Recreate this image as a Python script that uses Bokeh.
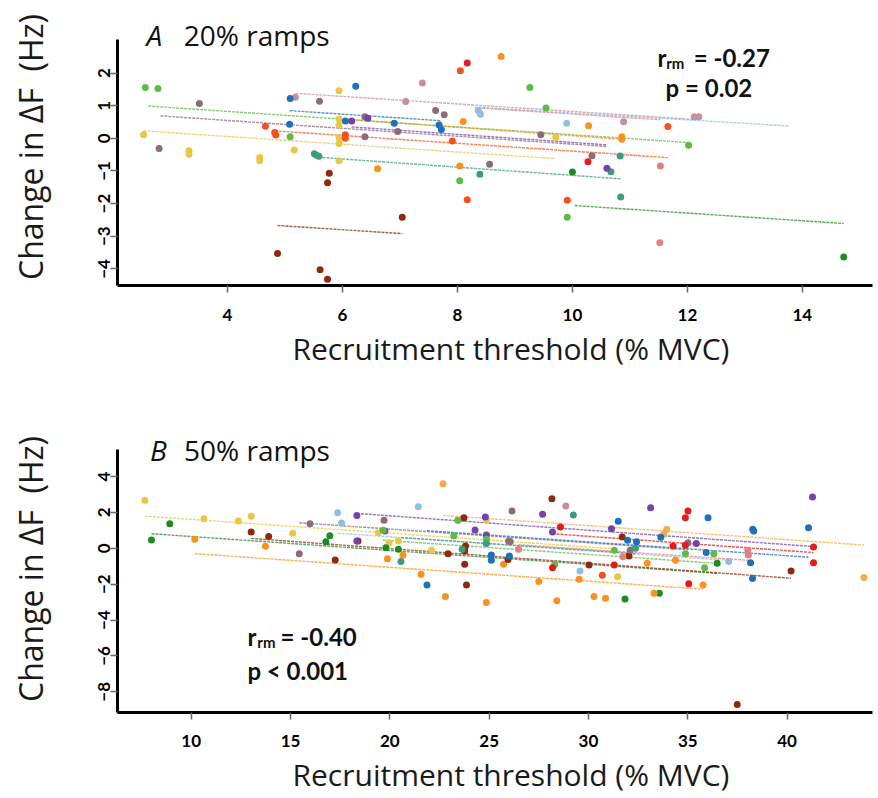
from bokeh.plotting import figure
from bokeh.layouts import column
from bokeh.models import ColumnDataSource, FixedTicker, Label, Range1d, Title
from bokeh.embed import file_html
from bokeh.resources import INLINE

FONT = "Lato"
LFONT = "Open Sans"

palette = {
    "G": "#5DBB46", "M": "#8C6B7B", "Y": "#E9C645", "O": "#F7921E",
    "O2": "#F9A94B", "OR": "#F4511E", "DB": "#8E2A0B", "PM": "#C7909E",
    "B": "#1F70B8", "T": "#3E9C7C", "P": "#7442A8", "R": "#E41A1C",
    "LB": "#90BFE0", "S": "#E48080", "DG": "#1E8B22",
}

# ---------------- Panel A : 20% ramps ----------------
a_xticks = [4, 6, 8, 10, 12, 14]
a_yticks = [-4, -3, -2, -1, 0, 1, 2]

a_grp = (["G"] * 8 + ["M"] * 11 + ["Y"] * 13 + ["O"] * 7 + ["OR"] * 10 + ["DB"] * 6
         + ["PM"] * 6 + ["B"] * 7 + ["T"] * 7 + ["P"] * 3 + ["R"] * 2 + ["LB"] * 3
         + ["S"] * 2 + ["DG"] * 2)
a_rt = [2.57, 2.79, 5.09, 8.04, 9.26, 9.54, 9.91, 12.02,
        2.81, 3.51, 5.60, 6.39, 6.39, 6.96, 7.62, 7.77, 8.56, 9.45, 10.34,
        2.54, 3.33, 3.33, 4.56, 4.56, 5.16, 5.94, 5.94, 5.94, 5.94, 5.94, 5.94, 9.71,
        6.61, 8.10, 8.04, 8.76, 10.28, 10.86, 10.86,
        4.66, 4.82, 4.84, 6.05, 6.05, 7.91, 8.05, 8.17, 9.91, 11.66,
        4.87, 5.61, 5.74, 5.77, 5.74, 7.04,
        5.18, 7.10, 7.39, 10.89, 12.12, 12.20,
        5.09, 5.08, 6.23, 6.05, 6.90, 7.68, 7.72,
        5.51, 5.55, 5.59, 8.39, 10.67, 10.83, 10.84,
        6.16, 6.44, 10.60,
        8.17, 10.27,
        8.36, 8.40, 9.90,
        11.53, 11.52,
        10.00, 14.72]
a_df = [1.56, 1.53, 0.05, -1.30, 1.56, 0.93, -2.42, -0.21,
        -0.31, 1.07, 1.14, 0.66, 0.05, 0.21, 0.85, 0.72, -0.79, 0.11, -0.53,
        0.11, -0.38, -0.49, -0.59, -0.69, -0.36, 1.46, 0.59, 0.41, 0.02, -0.16, -0.69, 0.03,
        -0.93, 0.52, -0.85, 2.51, 0.39, 0.05, -0.03,
        0.37, 0.18, 0.10, 0.11, 0.00, -0.08, 2.07, -1.88, -1.90, 0.36,
        -3.53, -4.03, -4.32, -1.07, -1.36, -2.42,
        1.26, 1.13, 1.70, 0.51, 0.66, 0.66,
        1.22, 0.43, 1.60, 0.53, 0.46, 0.41, 0.27,
        -0.47, -0.52, -0.55, -1.10, -1.02, -0.54, -1.80,
        0.53, 0.62, -0.92,
        2.31, -0.72,
        0.85, 0.74, 0.46,
        -0.85, -3.20,
        -1.03, -3.64]

a_line_grp = ["G", "M", "Y", "PM", "LB", "S", "B", "O", "OR", "T", "P", "DB", "DG"]
a_line_x0 = [2.62, 2.83, 2.54, 5.18, 8.36, 8.30, 5.08, 6.04, 4.82, 5.51, 6.16, 4.87, 10.04]
a_line_y0 = [0.99, 0.69, 0.23, 1.38, 0.95, 0.94, 0.85, 0.59, 0.23, -0.57, 0.35, -2.67, -2.06]
a_line_x1 = [12.02, 10.60, 9.70, 12.12, 13.77, 11.53, 7.72, 10.86, 11.66, 10.84, 10.60, 7.04, 14.72]
a_line_y1 = [-0.13, -0.25, -0.62, 0.58, 0.38, 0.57, 0.54, -0.03, -0.59, -1.24, -0.20, -2.92, -2.61]

# ---------------- Panel B : 50% ramps ----------------
b_xticks = [10, 15, 20, 25, 30, 35, 40]
b_yticks = [-8, -6, -4, -2, 0, 2, 4]

b_grp = (["Y"] * 11 + ["DG"] * 9 + ["O"] * 17 + ["O2"] * 4 + ["DB"] * 17 + ["M"] * 8
         + ["LB"] * 5 + ["P"] * 12 + ["G"] * 9 + ["T"] * 5 + ["B"] * 15 + ["R"] * 10
         + ["S"] * 4 + ["PM"] * 1 + ["OR"] * 1)
b_rt = [7.67, 10.64, 12.37, 13.02, 15.11, 19.42, 19.96, 20.43, 22.10, 24.86, 31.47,
        8.00, 8.92, 16.78, 16.98, 19.80, 20.43, 31.84, 33.57, 36.48,
        10.18, 13.74, 19.88, 20.66, 21.57, 22.80, 24.86, 25.73, 27.50, 28.41, 29.53, 30.28,
        30.86, 32.96, 33.30, 34.38, 35.77,
        22.68, 33.78, 33.94, 43.87,
        13.02, 13.90, 17.25, 18.40, 22.93, 23.73, 23.81, 23.77, 23.77, 23.86, 25.95, 28.16,
        30.03, 31.70, 32.04, 37.49, 40.20,
        15.44, 15.98, 19.71, 26.15, 25.98, 26.06, 32.10, 35.01,
        17.37, 17.57, 21.43, 29.57, 37.06,
        18.34, 18.34, 19.75, 24.29, 24.81, 24.86, 27.69, 28.19, 31.16, 33.13, 35.43, 41.28,
        19.66, 23.42, 23.22, 24.86, 28.30, 31.30, 34.88, 36.31, 35.85,
        20.56, 23.64, 24.86, 29.24, 32.37,
        21.87, 25.11, 25.11, 26.02, 31.50, 31.97, 32.42, 33.64, 35.93, 36.02, 38.27, 38.32,
        38.16, 38.26, 41.08,
        28.19, 28.59, 31.30, 34.26, 34.88, 35.01, 34.88, 35.05, 41.33, 41.33,
        26.48, 31.73, 38.02, 38.05,
        28.86,
        30.70]
b_df = [2.68, 1.64, 1.52, 1.79, 0.83, 0.87, 0.31, 0.41, -0.11, 1.60, -1.59,
        0.46, 1.37, 0.37, 0.70, 0.03, -0.06, -2.83, -2.50, -0.83,
        0.50, 0.11, -0.59, -0.39, -1.45, -2.69, -3.02, -0.89, -1.85, -2.93, -1.72, -2.69,
        -2.78, -0.83, -2.50, -0.67, -2.04,
        3.59, 0.78, 1.06, -1.63,
        0.90, 0.65, -0.65, 0.41, -0.30, 1.70, 0.13, -0.15, -0.89, -2.04, -0.63, 2.76,
        -0.93, 0.63, -0.43, -8.70, -1.26,
        -0.30, 1.37, 1.56, 2.07, 0.41, 0.37, -0.11, 0.31,
        1.98, 1.41, 2.31, -1.26, -0.74,
        1.83, 0.41, 0.96, 1.02, 1.74, 0.74, 1.89, 0.90, 1.09, 2.26, 0.26, 2.85,
        1.00, 1.56, 0.70, 0.50, -0.90, -0.11, -0.30, -0.30, -1.08,
        -0.74, -0.06, 0.26, 1.85, 0.00,
        -2.04, -0.37, -0.67, -0.43, 1.50, 0.44, 0.37, 0.61, -0.24, 1.70, 1.06, 0.96,
        -0.80, -1.69, 1.14,
        -1.08, 1.18, -0.93, 0.13, 1.70, 2.07, 0.17, -1.97, 0.07, -0.80,
        -0.06, -0.47, -0.11, -0.37,
        2.35,
        -1.50]

b_line_grp = ["Y", "DG", "O", "O2", "DB", "M", "LB", "P", "G", "T", "B", "R", "S"]
b_line_x0 = [7.67, 8.00, 10.18, 22.68, 13.02, 15.44, 17.37, 18.34, 19.66, 20.56, 21.87, 28.19, 26.48]
b_line_y0 = [1.79, 0.81, -0.30, 1.83, 0.55, 1.42, 0.84, 1.94, 0.45, 0.60, 0.98, 0.81, 0.20]
b_line_x1 = [31.47, 36.48, 35.77, 43.87, 40.20, 35.01, 37.06, 41.28, 36.31, 32.37, 41.08, 41.33, 38.05]
b_line_y1 = [-0.04, -1.40, -2.28, 0.18, -1.67, -0.08, -0.68, 0.10, -0.83, -0.30, -0.50, -0.24, -0.67]

x_title = "Recruitment threshold (% MVC)"
y_title = "Change in ΔF\u00a0\u00a0(Hz)"


def make_panel(height, xr, yr, ybounds, border_top, border_bottom, xticks, yticks,
               rt, df, grp, lgrp, lx0, ly0, lx1, ly1, tick_standoff, title_standoff):
    p = figure(width=876, height=height, x_range=Range1d(*xr), y_range=Range1d(*yr),
               output_backend="svg", toolbar_location=None,
               min_border_left=117, min_border_right=4,
               min_border_top=border_top, min_border_bottom=border_bottom)
    p.grid.visible = False
    p.outline_line_color = None
    p.background_fill_color = "white"
    p.border_fill_color = "white"

    lsrc = ColumnDataSource(dict(x0=lx0, y0=ly0, x1=lx1, y1=ly1,
                                 c=[palette[g] for g in lgrp]))
    p.segment("x0", "y0", "x1", "y1", source=lsrc, line_color="c",
              line_width=1.4, line_alpha=0.75, line_dash="3 1")

    src = ColumnDataSource(dict(x=rt, y=df, c=[palette[g] for g in grp]))
    p.scatter("x", "y", source=src, marker="circle", size=7,
              fill_color="c", line_color=None)

    p.xaxis.ticker = FixedTicker(ticks=xticks)
    p.yaxis.ticker = FixedTicker(ticks=yticks)
    p.yaxis.bounds = ybounds
    for ax in (p.xaxis[0], p.yaxis[0]):
        ax.axis_line_width = 3
        ax.axis_line_color = "black"
        ax.major_tick_out = 7
        ax.major_tick_in = 0
        ax.major_tick_line_color = "#666666"
        ax.major_tick_line_width = 1.5
        ax.minor_tick_line_color = None
        ax.major_label_text_font = FONT
        ax.major_label_text_font_style = "bold"
        ax.major_label_text_font_size = "17px"
        ax.major_label_text_color = "black"
        ax.axis_label_text_font = LFONT
        ax.axis_label_text_font_style = "normal"
        ax.axis_label_text_color = "#1a1a1a"
    p.yaxis.axis_label = y_title
    p.yaxis.axis_label_text_font_size = "32px"
    p.yaxis.major_label_orientation = "vertical"
    p.xaxis.major_label_standoff = tick_standoff
    p.yaxis.major_label_standoff = 0
    p.yaxis.axis_label_standoff = 44
    p.add_layout(Title(text=x_title, align="left", offset=175,
                       standoff=title_standoff, text_font=LFONT,
                       text_font_style="normal", text_font_size="30px",
                       text_color="#1a1a1a"), "below")
    return p


pa = make_panel(398, (2.086, 15.22), (-4.51, 3.98), (-4.51, 3.03), 8, 113,
                a_xticks, a_yticks,
                a_rt, a_df, a_grp, a_line_grp, a_line_x0, a_line_y0, a_line_x1, a_line_y1,
                16, 4)
pb = make_panel(399, (6.29, 44.3), (-9.15, 6.84), (-9.15, 5.49), 27, 85,
                b_xticks, b_yticks,
                b_rt, b_df, b_grp, b_line_grp, b_line_x0, b_line_y0, b_line_x1, b_line_y1,
                15, 4)


def add_text(p, x, y, text, size, style="normal", font=FONT):
    p.add_layout(Label(x=x, y=y, text=text, text_font=font, text_font_size=size,
                       text_font_style=style, text_color="#111111",
                       text_baseline="alphabetic", text_align="left"))


# panel titles
add_text(pa, 2.59, 3.18, "A", "28px", "italic", LFONT)
add_text(pa, 3.24, 3.18, "20% ramps", "28px", "normal", LFONT)
add_text(pb, 7.93, 5.45, "B", "28px", "italic", LFONT)
add_text(pb, 9.64, 5.45, "50% ramps", "28px", "normal", LFONT)

# statistics
add_text(pa, 11.48, 2.49, "r", "24px", "bold")
add_text(pa, 11.63, 2.30, "rm", "15px", "bold")
add_text(pa, 12.11, 2.49, "= -0.27", "24px", "bold")
add_text(pa, 11.62, 1.55, "p = 0.02", "24px", "bold")

add_text(pb, 12.83, -4.94, "r", "24px", "bold")
add_text(pb, 13.33, -5.22, "rm", "15px", "bold")
add_text(pb, 14.50, -4.94, "= -0.40", "24px", "bold")
add_text(pb, 12.83, -6.79, "p < 0.001", "24px", "bold")

layout = column(pa, pb)
open("out.html", "w").write(file_html(layout, INLINE))
